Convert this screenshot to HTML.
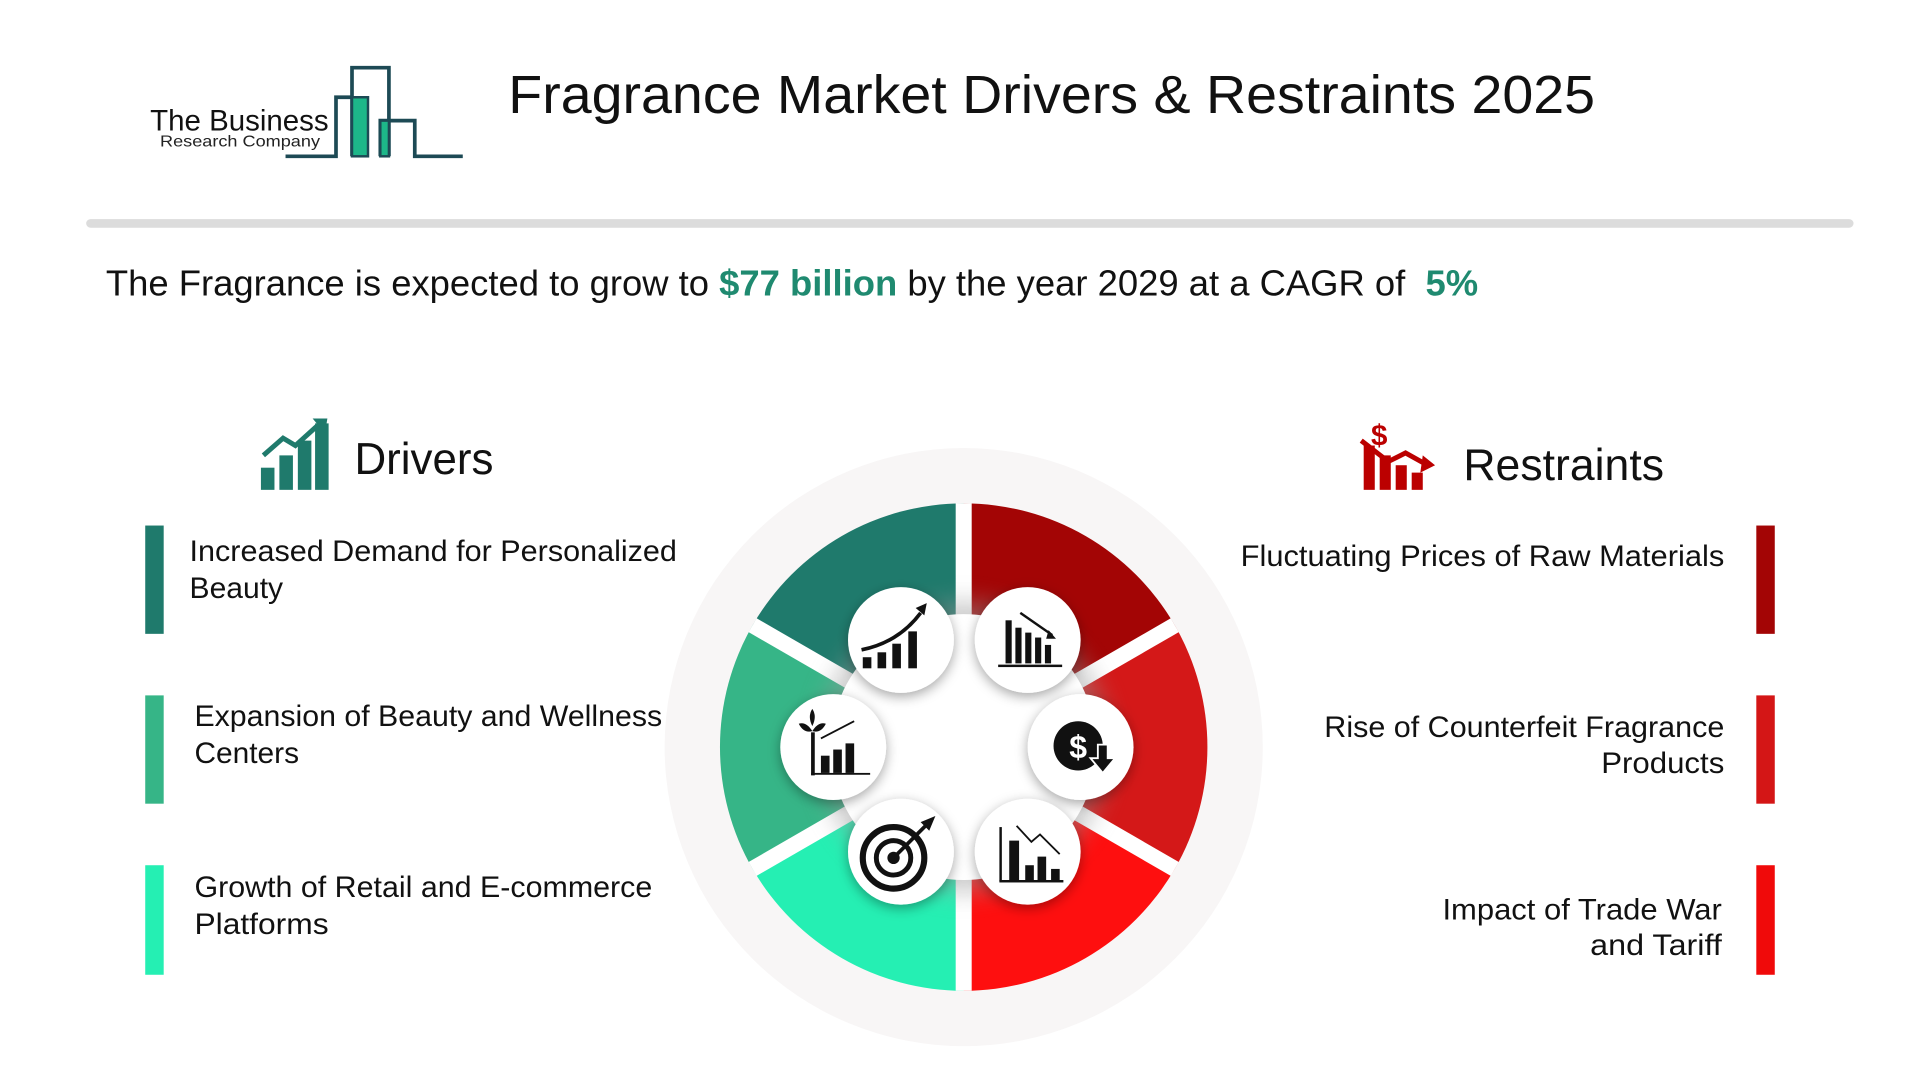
<!DOCTYPE html>
<html><head><meta charset="utf-8"><style>
html,body{margin:0;padding:0;background:#fff;}
svg{display:block;}
text{font-family:"Liberation Sans",sans-serif;}
</style></head><body>
<svg width="1920" height="1080" viewBox="0 0 1560 877.5" xmlns="http://www.w3.org/2000/svg">
<defs>
<filter id="sh" x="-50%" y="-50%" width="200%" height="200%"><feDropShadow dx="0" dy="3" stdDeviation="5" flood-color="#000" flood-opacity="0.35"/></filter>
<filter id="sh2" x="-50%" y="-50%" width="200%" height="200%"><feGaussianBlur stdDeviation="10"/></filter>
</defs>
<!-- logo -->
<text x="122" y="106" font-size="24" fill="#111" textLength="145" lengthAdjust="spacingAndGlyphs">The Business</text>
<text x="130" y="119" font-size="13" fill="#222" textLength="130" lengthAdjust="spacingAndGlyphs">Research Company</text>
<g fill="none" stroke="#1d4a55" stroke-width="3">
<polyline points="232,127 273,127 273,79 286,79"/>
<polyline points="286,127 286,55 316,55 316,127"/>
<polyline points="309,127 309,98 337,98 337,127 376,127"/>
</g>
<rect x="286" y="79" width="13" height="48" fill="#1db789" stroke="#1d4a55" stroke-width="2"/>
<rect x="309" y="98" width="7" height="29" fill="#1db789" stroke="#1d4a55" stroke-width="2"/>
<text x="413" y="92" font-size="44" fill="#111" textLength="883" lengthAdjust="spacingAndGlyphs">Fragrance Market Drivers &amp; Restraints 2025</text>
<rect x="70" y="178" width="1436" height="7" rx="3.5" fill="#dcdcdc"/>
<text x="86" y="240" font-size="29" fill="#111" textLength="1115" lengthAdjust="spacingAndGlyphs" xml:space="preserve">The Fragrance is expected to grow to <tspan fill="#1f8a70" font-weight="bold">$77 billion</tspan> by the year 2029 at a CAGR of  <tspan fill="#1f8a70" font-weight="bold">5%</tspan></text>
<!-- drivers icon -->
<g fill="#1f7a6c"><rect x="212" y="380" width="11" height="18"/><rect x="227" y="370" width="11" height="28"/><rect x="242" y="358" width="11" height="40"/><rect x="256" y="344" width="11" height="54"/></g>
<polyline points="214,370 230,356 240,362 260,344" fill="none" stroke="#1f7a6c" stroke-width="4"/>
<polygon points="254,340 266,340 264,352" fill="#1f7a6c"/>
<text x="288" y="385" font-size="36" fill="#111" textLength="113" lengthAdjust="spacingAndGlyphs">Drivers</text>
<!-- restraints icon -->
<text x="1114" y="362" font-size="24" font-weight="bold" fill="#b00">$</text>
<g fill="#b00"><rect x="1108" y="362" width="9" height="36"/><rect x="1121" y="370" width="9" height="28"/><rect x="1134" y="378" width="9" height="20"/><rect x="1147" y="384" width="9" height="14"/></g>
<polyline points="1106,358 1128,375 1142,368 1160,378" fill="none" stroke="#b00" stroke-width="4"/>
<polygon points="1156,370 1166,378 1154,384" fill="#b00"/>
<text x="1189" y="390" font-size="36" fill="#111" textLength="163" lengthAdjust="spacingAndGlyphs">Restraints</text>
<!-- left items -->
<rect x="118" y="427" width="15" height="88" fill="#1f7a6c"/>
<rect x="118" y="565" width="15" height="88" fill="#36b587"/>
<rect x="118" y="703" width="15" height="89" fill="#25efb3"/>
<g font-size="24" fill="#111">
<text x="154" y="456" textLength="396" lengthAdjust="spacingAndGlyphs">Increased Demand for Personalized</text><text x="154" y="486" textLength="76" lengthAdjust="spacingAndGlyphs">Beauty</text>
<text x="158" y="590" textLength="380" lengthAdjust="spacingAndGlyphs">Expansion of Beauty and Wellness</text><text x="158" y="620" textLength="85" lengthAdjust="spacingAndGlyphs">Centers</text>
<text x="158" y="729" textLength="372" lengthAdjust="spacingAndGlyphs">Growth of Retail and E-commerce</text><text x="158" y="759" textLength="109" lengthAdjust="spacingAndGlyphs">Platforms</text>
</g>
<rect x="1427" y="427" width="15" height="88" fill="#a30505"/>
<rect x="1427" y="565" width="15" height="88" fill="#d41616"/>
<rect x="1427" y="703" width="15" height="89" fill="#f00a0a"/>
<g font-size="24" fill="#111">
<text x="1008" y="460" textLength="393" lengthAdjust="spacingAndGlyphs">Fluctuating Prices of Raw Materials</text>
<text x="1076" y="599" textLength="325" lengthAdjust="spacingAndGlyphs">Rise of Counterfeit Fragrance</text><text x="1301" y="628" textLength="100" lengthAdjust="spacingAndGlyphs">Products</text>
<text x="1172" y="747" textLength="227" lengthAdjust="spacingAndGlyphs">Impact of Trade War</text><text x="1292" y="776" textLength="107" lengthAdjust="spacingAndGlyphs">and Tariff</text>
</g>
<!-- wheel -->
<circle cx="783" cy="607" r="243" fill="#f8f6f6"/>
<g>
<path d="M783,607 L783,409 A198,198 0 0 0 611.5,508 Z" fill="#1f7a6c"/>
<path d="M783,607 L611.5,508 A198,198 0 0 0 611.5,706 Z" fill="#36b587"/>
<path d="M783,607 L611.5,706 A198,198 0 0 0 783,805 Z" fill="#25efb3"/>
<path d="M783,607 L783,409 A198,198 0 0 1 954.5,508 Z" fill="#a30505"/>
<path d="M783,607 L954.5,508 A198,198 0 0 1 954.5,706 Z" fill="#d41818"/>
<path d="M783,607 L954.5,706 A198,198 0 0 1 783,805 Z" fill="#fe0f0f"/>
</g>
<g stroke="#fff" stroke-width="13">
<line x1="783" y1="409" x2="783" y2="805"/>
<line x1="611.5" y1="508" x2="954.5" y2="706"/>
<line x1="611.5" y1="706" x2="954.5" y2="508"/>
</g>
<circle cx="783" cy="607" r="118" fill="#999" filter="url(#sh2)" opacity="0.5"/>
<circle cx="783" cy="607" r="108" fill="#fff"/>
<g fill="#fff" filter="url(#sh)">
<circle cx="732" cy="520" r="43"/><circle cx="835" cy="520" r="43"/>
<circle cx="677" cy="607" r="43"/><circle cx="878" cy="607" r="43"/>
<circle cx="732" cy="692" r="43"/><circle cx="835" cy="692" r="43"/>
</g>
<!-- icons -->
<g fill="#111">
<rect x="701" y="534" width="7" height="9"/><rect x="713" y="530" width="7" height="13"/><rect x="725" y="523" width="7" height="20"/><rect x="738" y="513" width="7" height="30"/>
<path d="M700,528 Q730,522 748,498" fill="none" stroke="#111" stroke-width="3"/><polygon points="744,494 753,490 751,500"/>
<rect x="817" y="504" width="5" height="35"/><rect x="825" y="510" width="5" height="29"/><rect x="833" y="514" width="5" height="25"/><rect x="841" y="518" width="5" height="21"/><rect x="849" y="524" width="5" height="15"/>
<rect x="811" y="540" width="52" height="2"/>
<line x1="829" y1="498" x2="855" y2="516" stroke="#111" stroke-width="2"/><polygon points="852,512 858,519 850,519"/>
<circle cx="876" cy="606" r="20"/><text x="876" y="616" font-size="26" font-weight="bold" fill="#fff" text-anchor="middle">$</text>
<polygon points="892,605 900,605 900,616 906,616 896,628 886,616 892,616" stroke="#fff" stroke-width="1.5"/>
<rect x="659" y="595" width="3" height="35"/><rect x="659" y="628" width="48" height="1.5"/>
<rect x="667" y="614" width="7" height="14"/><rect x="677" y="609" width="7" height="19"/><rect x="687" y="604" width="7" height="24"/>
<path d="M660,594 q-5,-8 -11,-6 q4,8 11,6 M660,594 q5,-8 11,-6 q-4,8 -11,6 M660,590 q-4,-8 0,-14 q4,6 0,14"/>
<line x1="667" y1="600" x2="694" y2="586" stroke="#111" stroke-width="1.5"/>
<circle cx="726" cy="697" r="25" fill="none" stroke="#111" stroke-width="5"/><circle cx="726" cy="697" r="14" fill="none" stroke="#111" stroke-width="4"/><circle cx="726" cy="697" r="5"/>
<line x1="726" y1="697" x2="752" y2="671" stroke="#111" stroke-width="3"/><polygon points="748,668 760,663 755,675"/>
<rect x="812" y="672" width="2" height="44"/><rect x="812" y="715" width="52" height="2"/>
<rect x="820" y="683" width="8" height="32"/><rect x="833" y="703" width="7" height="12"/><rect x="843" y="696" width="7" height="19"/><rect x="854" y="706" width="7" height="9"/>
<polyline points="826,671 838,684 845,678 861,694" fill="none" stroke="#111" stroke-width="1.5"/>
</g>
</svg>
</body></html>
